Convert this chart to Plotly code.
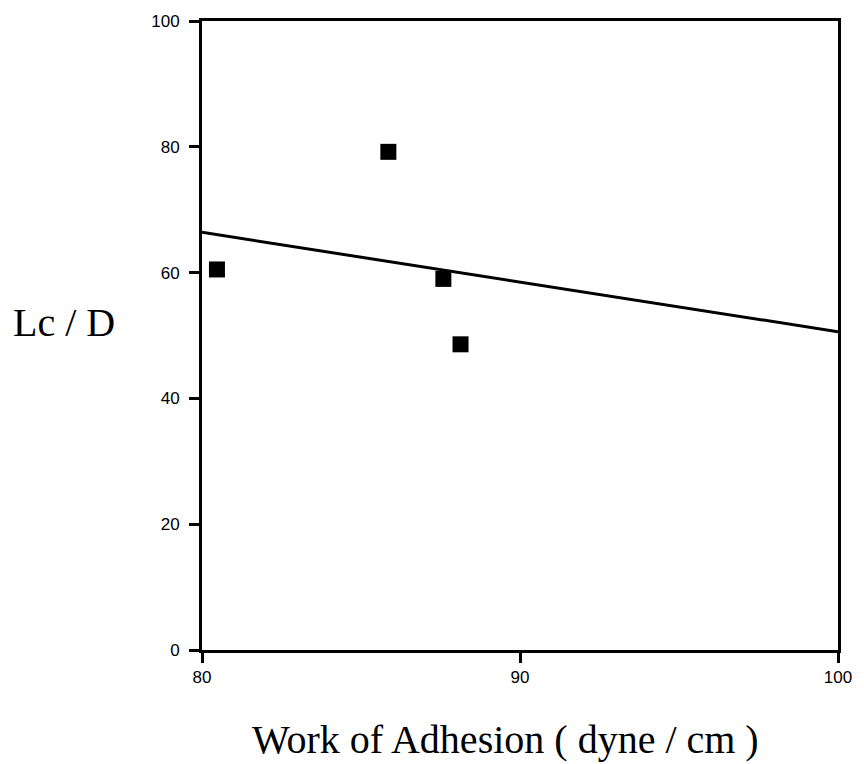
import plotly.graph_objects as go

# Data
work_adhesion = [80.47, 85.86, 87.59, 88.13]
lc_over_d = [60.5, 79.2, 59.0, 48.6]

fit_x = [80, 100]
fit_y = [66.4, 50.6]

x_ticks = [80, 90, 100]
y_ticks = [0, 20, 40, 60, 80, 100]

fig = go.Figure()
fig.add_trace(go.Scatter(x=fit_x, y=fit_y, mode="lines",
                         line=dict(color="black", width=3), showlegend=False,
                         cliponaxis=False))
fig.add_trace(go.Scatter(x=work_adhesion, y=lc_over_d, mode="markers",
                         marker=dict(symbol="square", size=16, color="black"),
                         showlegend=False))

axis_common = dict(showgrid=False, zeroline=False, showline=True, linecolor="black",
                   linewidth=3, mirror=True, ticks="outside", ticklen=10, tickwidth=3,
                   tickcolor="black",
                   tickfont=dict(family="Liberation Sans, Arial", size=17, color="black"))

fig.update_xaxes(range=[80, 100], tickvals=x_ticks, **axis_common)
fig.update_yaxes(range=[0, 100], tickvals=y_ticks, ticklabelstandoff=6, **axis_common)

fig.add_annotation(text="Lc / D", xref="paper", yref="paper", x=-0.3, y=0.52,
                   xanchor="left", yanchor="middle", showarrow=False,
                   font=dict(family="Liberation Serif, Times New Roman", size=40, color="black"))
fig.add_annotation(text="Work of Adhesion ( dyne / cm )", xref="paper", yref="paper",
                   x=0.075, y=-0.182, xanchor="left", yanchor="bottom", showarrow=False,
                   font=dict(family="Liberation Serif, Times New Roman", size=40, color="black"))

fig.update_layout(width=864, height=764, margin=dict(l=202, r=22, t=19, b=114),
                  plot_bgcolor="white", paper_bgcolor="white")

fig.write_html("out.html")
